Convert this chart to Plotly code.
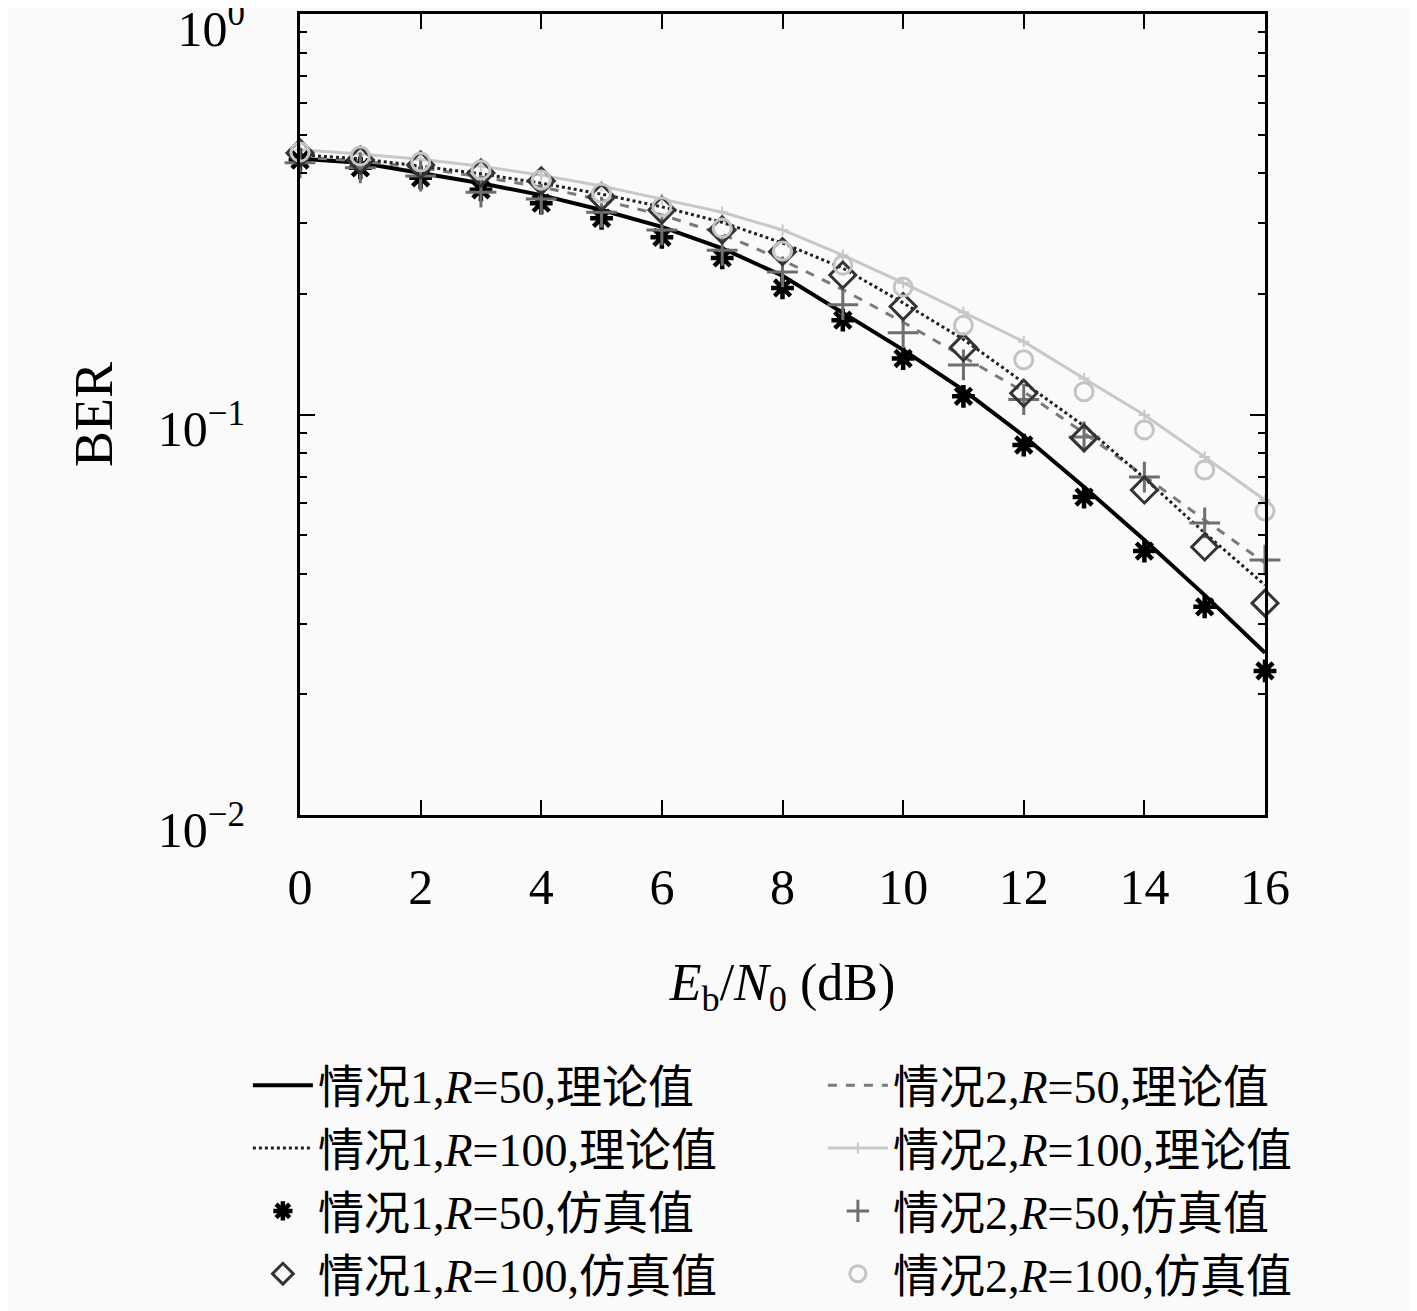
import plotly.graph_objects as go

# Eb/N0 (dB)
ebn0 = list(range(0, 17))

# theory curves
c1_r50_theory = [0.435, 0.425, 0.401, 0.378, 0.353, 0.324, 0.294, 0.260, 0.222,
                 0.179, 0.145, 0.115, 0.0884, 0.0659, 0.0486, 0.0354, 0.0254]
c1_r100_theory = [0.445, 0.435, 0.417, 0.399, 0.378, 0.355, 0.330, 0.302, 0.268,
                  0.232, 0.190, 0.154, 0.120, 0.0936, 0.0694, 0.0506, 0.0375]
c2_r50_theory = [0.439, 0.430, 0.413, 0.392, 0.370, 0.343, 0.315, 0.282, 0.243,
                 0.205, 0.170, 0.139, 0.114, 0.0899, 0.0702, 0.0545, 0.0426]
c2_r100_theory = [0.458, 0.447, 0.434, 0.417, 0.396, 0.372, 0.345, 0.320, 0.289,
                  0.250, 0.213, 0.180, 0.152, 0.123, 0.0997, 0.0783, 0.0611]

# simulation points
c1_r50_sim = [0.432, 0.413, 0.390, 0.364, 0.337, 0.309, 0.277, 0.246, 0.207,
              0.172, 0.138, 0.111, 0.0839, 0.0622, 0.0456, 0.0331, 0.0229]
c1_r100_sim = [0.450, 0.432, 0.420, 0.401, 0.383, 0.349, 0.324, 0.289, 0.255,
               0.223, 0.186, 0.147, 0.113, 0.0874, 0.0648, 0.0467, 0.0338]
c2_r50_sim = [0.425, 0.413, 0.394, 0.359, 0.345, 0.320, 0.289, 0.257, 0.227,
              0.188, 0.160, 0.133, 0.109, 0.0879, 0.0698, 0.0536, 0.0433]
c2_r100_sim = [0.452, 0.442, 0.427, 0.408, 0.385, 0.357, 0.330, 0.292, 0.256,
               0.236, 0.208, 0.167, 0.137, 0.114, 0.0915, 0.0727, 0.0574]

names = {
    "c1_r50_th": "情况1,<i>R</i>=50,理论值",
    "c1_r100_th": "情况1,<i>R</i>=100,理论值",
    "c2_r50_th": "情况2,<i>R</i>=50,理论值",
    "c2_r100_th": "情况2,<i>R</i>=100,理论值",
    "c1_r50_sim": "情况1,<i>R</i>=50,仿真值",
    "c1_r100_sim": "情况1,<i>R</i>=100,仿真值",
    "c2_r50_sim": "情况2,<i>R</i>=50,仿真值",
    "c2_r100_sim": "情况2,<i>R</i>=100,仿真值",
}

FONT = "Liberation Serif, Noto Sans CJK SC, serif"
BG = "#fafafa"

fig = go.Figure()

# order chosen so the horizontal legend fills two columns like the original
fig.add_trace(go.Scatter(x=ebn0, y=c1_r50_theory, mode="lines", name=names["c1_r50_th"],
                         line=dict(color="black", width=4), cliponaxis=False))
fig.add_trace(go.Scatter(x=ebn0, y=c2_r50_theory, mode="lines", name=names["c2_r50_th"],
                         line=dict(color="#7a7a7a", width=3, dash="dash"), cliponaxis=False))
fig.add_trace(go.Scatter(x=ebn0, y=c1_r100_theory, mode="lines", name=names["c1_r100_th"],
                         line=dict(color="#222222", width=3, dash="dot"), cliponaxis=False))
fig.add_trace(go.Scatter(x=ebn0, y=c2_r100_theory, mode="lines+markers", name=names["c2_r100_th"],
                         line=dict(color="#c8c8c8", width=3),
                         marker=dict(symbol="cross-thin-open", size=8, color="#c8c8c8",
                                     line=dict(width=2)),
                         cliponaxis=False))
fig.add_trace(go.Scatter(x=ebn0, y=c1_r50_sim, mode="markers", name=names["c1_r50_sim"],
                         marker=dict(symbol="asterisk-open", size=19, color="black",
                                     line=dict(width=4.5)),
                         cliponaxis=False))
fig.add_trace(go.Scatter(x=ebn0, y=c2_r50_sim, mode="markers", name=names["c2_r50_sim"],
                         marker=dict(symbol="cross-thin-open", size=22, color="#6e6e6e",
                                     line=dict(width=3)),
                         cliponaxis=False))
fig.add_trace(go.Scatter(x=ebn0, y=c1_r100_sim, mode="markers", name=names["c1_r100_sim"],
                         marker=dict(symbol="diamond-open", size=20, color="#333333",
                                     line=dict(width=3)),
                         cliponaxis=False))
fig.add_trace(go.Scatter(x=ebn0, y=c2_r100_sim, mode="markers", name=names["c2_r100_sim"],
                         marker=dict(symbol="circle-open", size=18, color="#c4c4c4",
                                     line=dict(width=3)),
                         cliponaxis=False))

fig.update_xaxes(
    range=[0, 16], dtick=2, tick0=0,
    showline=True, linecolor="black", linewidth=3, mirror="ticks",
    ticks="inside", ticklen=15, tickwidth=2, tickcolor="black",
    showgrid=False, zeroline=False,
    tickfont=dict(family=FONT, size=50, color="black"),
    ticklabelstandoff=26,
    title=dict(text="<i>E</i><sub>b</sub>/<i>N</i><sub>0</sub> (dB)",
               font=dict(family=FONT, size=52, color="black"), standoff=50),
)
fig.update_yaxes(
    type="log", range=[-2, 0],
    tickvals=[1, 0.1, 0.01],
    ticktext=["10<sup>0</sup>", "10<sup>−1</sup>", "10<sup>−2</sup>"],
    showline=True, linecolor="black", linewidth=3, mirror="ticks",
    ticks="inside", ticklen=15, tickwidth=2, tickcolor="black",
    minor=dict(ticks="inside", ticklen=7, tickwidth=2, tickcolor="black", dtick="D1"),
    showgrid=False, zeroline=False,
    tickfont=dict(family=FONT, size=50, color="black"),
    ticklabelstandoff=42, ticklabelshift=14, ticklabeloverflow="allow",
    title=dict(text="BER", font=dict(family=FONT, size=54, color="black"), standoff=28),
)

fig.update_layout(
    width=1417, height=1311,
    margin=dict(l=292, r=160, t=6, b=504, autoexpand=False),
    paper_bgcolor=BG, plot_bgcolor=BG,
    font=dict(family=FONT, color="black"),
    legend=dict(
        orientation="h", x=-0.054, y=-0.292, xanchor="left", yanchor="top",
        entrywidth=500, entrywidthmode="pixels",
        font=dict(family=FONT, size=46, color="black"),
        bgcolor="rgba(0,0,0,0)", tracegroupgap=0,
        itemwidth=60,
    ),
)

fig.write_html("out.html")
